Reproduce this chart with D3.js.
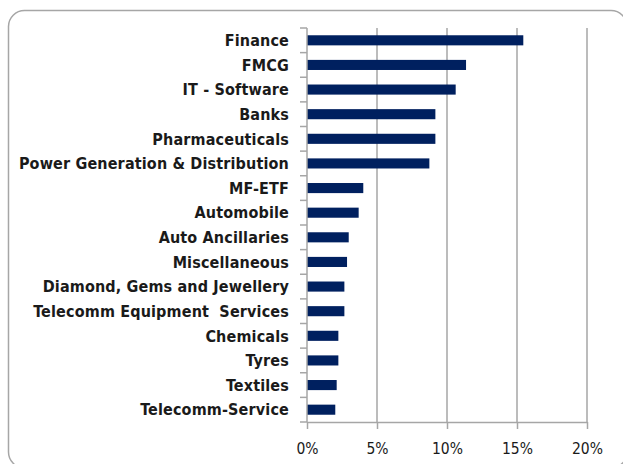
<!DOCTYPE html>
<html>
<head>
<meta charset="utf-8">
<script src="https://cdn.jsdelivr.net/npm/d3@7"></script>
<style>
  body { margin: 0; background: #fff; }
  svg { display: block; }
</style>
</head>
<body>
<div id="root"></div>
<script>
// sector allocation, % of portfolio
const sectors = [
  "Finance", "FMCG", "IT - Software", "Banks", "Pharmaceuticals",
  "Power Generation & Distribution", "MF-ETF", "Automobile",
  "Auto Ancillaries", "Miscellaneous", "Diamond, Gems and Jewellery",
  "Telecomm Equipment  Services", "Chemicals", "Tyres", "Textiles",
  "Telecomm-Service"
];
const weights = [15.45, 11.36, 10.62, 9.17, 9.17, 8.74, 4.02, 3.69,
  2.98, 2.86, 2.67, 2.67, 2.24, 2.24, 2.12, 2.02];
const xTicks = [0, 5, 10, 15, 20];

const W = 623, H = 464;
const margin = {top: 28, right: 36, bottom: 42, left: 307};
const width = W - margin.left - margin.right,
  height = H - margin.top - margin.bottom;

const font = "'DejaVu Sans Condensed', 'DejaVu Sans', sans-serif";

const svg = d3.select("#root").append("svg")
  .attr("width", W)
  .attr("height", H);

// rounded frame, runs slightly off the right and bottom edge
svg.append("rect")
  .attr("x", 8.5).attr("y", 10.5)
  .attr("width", 618.5).attr("height", 457.5)
  .attr("rx", 16).attr("ry", 16)
  .attr("fill", "none")
  .attr("stroke", "#a6a6a6")
  .attr("stroke-width", 1.5);

const g = svg.append("g")
  .attr("transform", "translate(" + margin.left + "," + margin.top + ")");

const x = d3.scaleLinear()
  .domain([0, 20])
  .range([0, width]);

const y = d3.scaleBand()
  .domain(sectors)
  .range([0, height])
  .paddingInner(0.59)
  .paddingOuter(0.295);

// vertical gridlines
g.append("g").selectAll("line")
  .data(xTicks.slice(1))
  .enter().append("line")
  .attr("x1", d => x(d)).attr("x2", d => x(d))
  .attr("y1", 0).attr("y2", height)
  .attr("stroke", "#a6a6a6")
  .attr("stroke-width", 1.5);

// bars
g.append("g").selectAll("rect")
  .data(sectors)
  .enter().append("rect")
  .attr("x", x(0))
  .attr("y", d => y(d))
  .attr("width", (d, i) => x(weights[i]) - x(0))
  .attr("height", y.bandwidth())
  .attr("fill", "#00205f");

// x axis
const xAxis = g.append("g")
  .attr("transform", "translate(0," + height + ")")
  .call(d3.axisBottom(x).tickValues(xTicks).tickFormat(d => d + "%")
    .tickSizeInner(7).tickSizeOuter(0).tickPadding(14));
xAxis.select(".domain").attr("stroke", "#a6a6a6").attr("stroke-width", 1.5);
xAxis.selectAll(".tick line").attr("stroke", "#a6a6a6").attr("stroke-width", 1.5);
xAxis.selectAll("text")
  .attr("fill", "#1a1a1a")
  .style("font-family", font)
  .style("font-size", "15.5px");

// y axis line with ticks at band boundaries
const bounds = d3.range(sectors.length + 1).map(i => i * height / sectors.length);
g.append("line")
  .attr("x1", 0).attr("x2", 0).attr("y1", 0).attr("y2", height)
  .attr("stroke", "#a6a6a6").attr("stroke-width", 1.5);
g.append("g").selectAll("line")
  .data(bounds)
  .enter().append("line")
  .attr("x1", -7).attr("x2", 0)
  .attr("y1", d => d).attr("y2", d => d)
  .attr("stroke", "#a6a6a6").attr("stroke-width", 1.5);

// category labels
g.append("g").selectAll("text")
  .data(sectors)
  .enter().append("text")
  .attr("x", -18)
  .attr("y", d => y(d) + y.bandwidth() / 2)
  .attr("dy", "0.36em")
  .attr("text-anchor", "end")
  .attr("fill", "#1a1a1a")
  .style("font-family", font)
  .style("font-weight", "bold")
  .style("font-size", "16px")
  .style("letter-spacing", "0.15px")
  .style("white-space", "pre")
  .text(d => d);
</script>
</body>
</html>
